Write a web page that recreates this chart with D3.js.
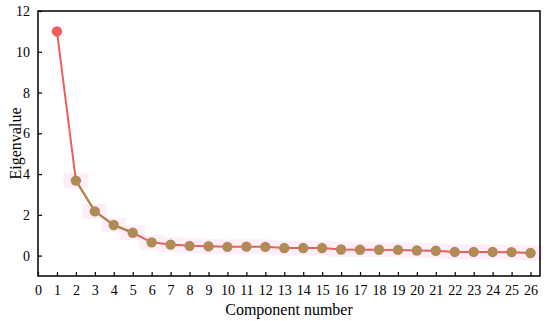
<!DOCTYPE html>
<html><head><meta charset="utf-8">
<script src="https://cdn.jsdelivr.net/npm/d3@7"></script>
<style>body{margin:0;background:#fff}svg{display:block}</style>
</head><body>
<svg id="c" width="550" height="321"></svg>
<script>
const components = d3.range(1, 27);
const eigenvalues = [11.0, 3.68, 2.17, 1.50, 1.12, 0.65, 0.54, 0.48, 0.46, 0.43, 0.44, 0.43, 0.37, 0.37, 0.37, 0.30, 0.29, 0.29, 0.28, 0.25, 0.24, 0.18, 0.18, 0.18, 0.17, 0.13];
const xTicks = d3.range(0, 27);
const yTicks = [0, 2, 4, 6, 8, 10, 12];
const data = components.map((c, i) => ({c, v: eigenvalues[i]}));
const FONT = "Liberation Serif";

const svg = d3.select("#c");
const L = 38, R = 540, T = 11, B = 276;
const x = d3.scaleLinear().domain([0, 26.5]).range([L, R]);
const y = d3.scaleLinear().domain([-1, 12]).range([B, T]);

svg.append("g").selectAll("rect").data(data.slice(1)).join("rect")
  .attr("x", d => x(d.c - 0.65)).attr("width", x(1.3) - x(0))
  .attr("y", d => y(d.v + 0.36)).attr("height", y(0) - y(0.72))
  .attr("fill", "#fdeefa");

const line = d3.line().x(d => x(d.c)).y(d => y(d.v));
svg.append("path").datum(data).attr("d", line)
  .attr("fill", "none").attr("stroke", "#e8605a").attr("stroke-width", 2);
svg.append("path").datum(data.slice(1, 5)).attr("d", line)
  .attr("fill", "none").attr("stroke", "#a88a50").attr("stroke-width", 2);

svg.append("g").selectAll("circle").data(data).join("circle")
  .attr("cx", d => x(d.c)).attr("cy", d => y(d.v)).attr("r", 5.2)
  .attr("fill", d => d.c === 1 ? "#ee5f5b" : "#b08b55");

svg.append("rect").attr("x", L).attr("y", T).attr("width", R - L).attr("height", B - T)
  .attr("fill", "none").attr("stroke", "#000").attr("stroke-width", 1.5);

const xa = svg.append("g").attr("transform", `translate(0,${B})`)
  .call(d3.axisBottom(x).tickValues(xTicks).tickSizeInner(-4).tickSizeOuter(0).tickPadding(9).tickFormat(d3.format("d")));
const ya = svg.append("g").attr("transform", `translate(${L},0)`)
  .call(d3.axisLeft(y).tickValues(yTicks).tickSizeInner(-4).tickSizeOuter(0).tickPadding(8).tickFormat(d3.format("d")));
[xa, ya].forEach(a => {
  a.attr("font-family", FONT).attr("font-size", 14);
  a.select(".domain").remove();
  a.selectAll("line").attr("stroke", "#000").attr("stroke-width", 1.2);
  a.selectAll("text").attr("fill", "#000").style("font-family", FONT);
});

svg.append("text").attr("x", (L + R) / 2).attr("y", 315).attr("text-anchor", "middle")
  .style("font-family", FONT).attr("font-size", 16).attr("fill", "#000").text("Component number");
svg.append("text").attr("transform", `translate(21,${(T + B) / 2}) rotate(-90)`)
  .style("font-family", FONT).attr("text-anchor", "middle").attr("font-size", 16).attr("fill", "#000").text("Eigenvalue");
</script>
</body></html>
